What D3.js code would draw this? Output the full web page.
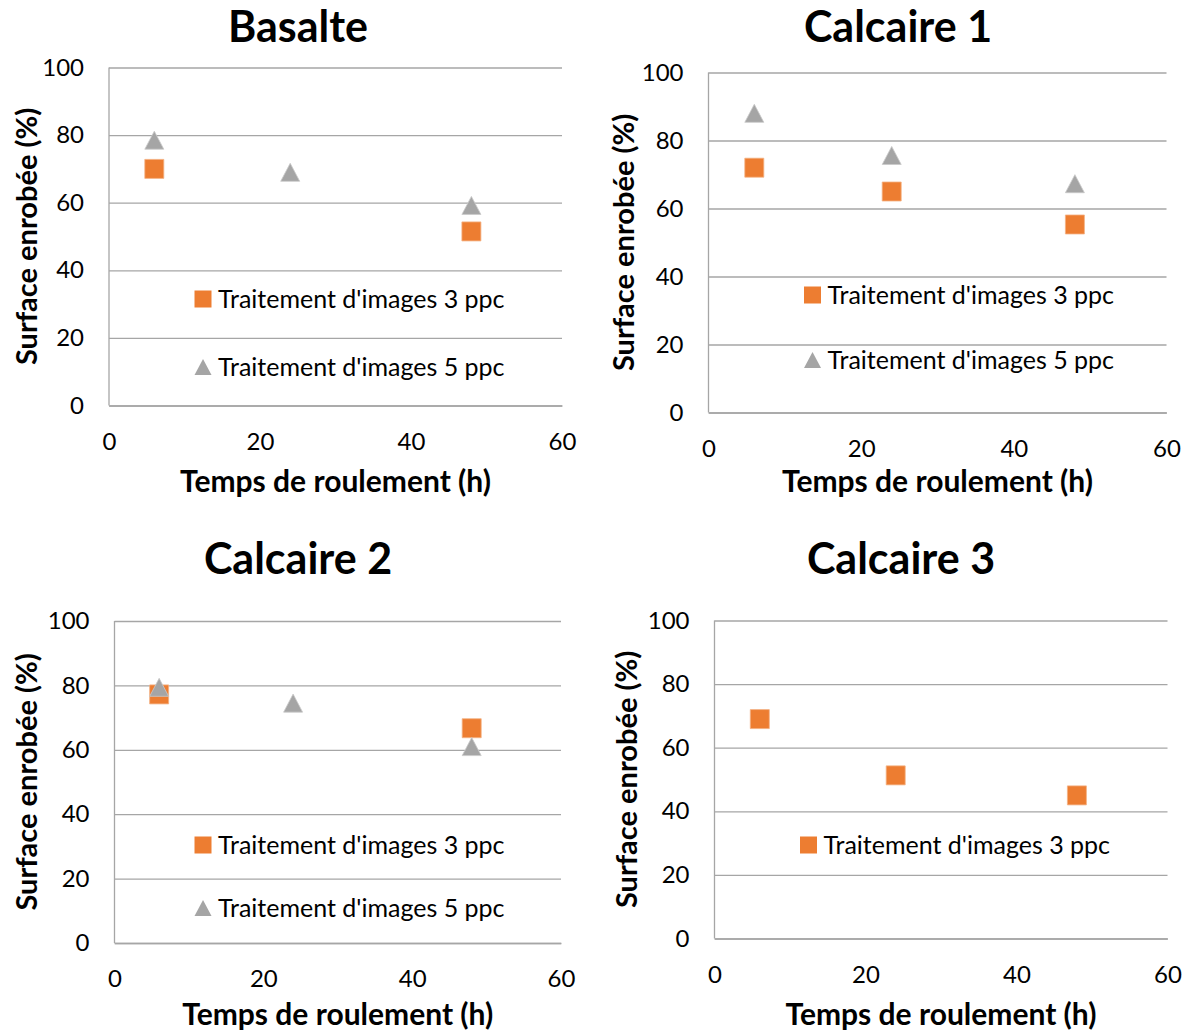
<!DOCTYPE html>
<html><head><meta charset="utf-8">
<script src="https://cdn.jsdelivr.net/npm/d3@7"></script>
<style>body{margin:0;background:#fff}svg{display:block}</style>
</head><body>
<svg id="c" width="1190" height="1034"></svg>
<script>
// ---- data ----
const panelTitles = ["Basalte", "Calcaire 1", "Calcaire 2", "Calcaire 3"];
const seriesNames = ["Traitement d'images 3 ppc", "Traitement d'images 5 ppc"];
const xTicks = [0, 20, 40, 60];
const yTicks = [0, 20, 40, 60, 80, 100];
const basalte3 = [[6, 70], [48, 51.5]];
const basalte5 = [[6, 78.5], [24, 69], [48, 59.2]];
const calcaire1_3 = [[6, 72], [24, 65], [48, 55.3]];
const calcaire1_5 = [[6, 88], [24, 75.6], [48, 67.3]];
const calcaire2_3 = [[6, 77.2], [48, 66.7]];
const calcaire2_5 = [[6, 79.4], [24, 74.5], [48, 61]];
const calcaire3_3 = [[6, 69], [24, 51.3], [48, 45]];
const xLabel = "Temps de roulement (h)";
const yLabel = "Surface enrobée (%)";

// ---- layout ----
const panels = [
  {title: panelTitles[0], s3: basalte3, s5: basalte5, L: 109, T: 67.5, R: 562, B: 405.5, tx: 298, ty: 42, xlY: 492, ylX: 37, legY: [299, 367], legX: 203},
  {title: panelTitles[1], s3: calcaire1_3, s5: calcaire1_5, L: 708.5, T: 72.5, R: 1166.5, B: 412.5, tx: 898, ty: 42, xlY: 492, ylX: 634, legY: [295, 360], legX: 812.5},
  {title: panelTitles[2], s3: calcaire2_3, s5: calcaire2_5, L: 114.5, T: 621, B: 943, R: 561, tx: 298, ty: 574, xlY: 1025, ylX: 37, legY: [845, 908], legX: 203},
  {title: panelTitles[3], s3: calcaire3_3, s5: null, L: 714.5, T: 620.5, R: 1167.5, B: 938.5, tx: 901, ty: 574, xlY: 1025, ylX: 637, legY: [845], legX: 808.5}
];
const ORANGE = "#ED7D31", GRAY = "#A5A5A5", GRID = "#A6A6A6";
const FONT = "Lato, 'Open Sans', sans-serif";
const svg = d3.select("#c");
const sq = d3.symbol().type(d3.symbolSquare).size(19 * 19);

function triPath(w) {
  const h = w * 0.95;
  return `M0,${-h/2}L${w/2},${h/2}L${-w/2},${h/2}Z`;
}

panels.forEach(p => {
  const g = svg.append("g");
  const x = d3.scaleLinear().domain([0, 60]).range([p.L, p.R]);
  const y = d3.scaleLinear().domain([0, 100]).range([p.B, p.T]);

  // gridlines + y ticks
  g.append("g").attr("transform", `translate(${p.L},0)`)
    .call(d3.axisLeft(y).tickValues(yTicks).tickSize(-(p.R - p.L)).tickFormat(d => d).tickPadding(25))
    .call(a => a.select(".domain").remove())
    .call(a => a.selectAll(".tick line").attr("stroke", GRID).attr("stroke-width", 1.3))
    .call(a => a.selectAll(".tick text").attr("font-family", FONT).attr("font-size", 24).attr("fill", "#000"));
  g.append("g").attr("transform", `translate(0,${p.B})`)
    .call(d3.axisBottom(x).tickValues(xTicks).tickSize(0).tickPadding(27))
    .call(a => a.select(".domain").attr("stroke", GRID).attr("stroke-width", 1.3))
    .call(a => a.selectAll(".tick text").attr("font-family", FONT).attr("font-size", 24).attr("fill", "#000"));
  // left axis line
  g.append("line").attr("x1", p.L).attr("x2", p.L).attr("y1", p.T).attr("y2", p.B).attr("stroke", GRID).attr("stroke-width", 1.3);

  // title
  g.append("text").attr("x", p.tx).attr("y", p.ty).attr("text-anchor", "middle")
    .attr("font-family", FONT).attr("font-weight", "bold").attr("font-size", 43).text(p.title);
  // axis labels
  g.append("text").attr("x", (p.L + p.R) / 2).attr("y", p.xlY).attr("text-anchor", "middle")
    .attr("font-family", FONT).attr("font-weight", "bold").attr("font-size", 30).text(xLabel);
  g.append("text").attr("transform", `translate(${p.ylX},${(p.T + p.B) / 2}) rotate(-90)`)
    .attr("text-anchor", "middle").attr("font-family", FONT).attr("font-weight", "bold").attr("font-size", 29).text(yLabel);

  // markers
  g.selectAll(".s3").data(p.s3).join("path")
    .attr("d", sq).attr("transform", d => `translate(${x(d[0])},${y(d[1])})`)
    .attr("fill", ORANGE).attr("stroke", "#F4B183").attr("stroke-width", 0.8);
  if (p.s5) {
    g.selectAll(".s5").data(p.s5).join("path")
      .attr("d", triPath(19)).attr("transform", d => `translate(${x(d[0])},${y(d[1])})`)
      .attr("fill", GRAY).attr("stroke", "#C9C9C9").attr("stroke-width", 0.8);
  }

  // legend
  const leg = [{name: seriesNames[0], c: ORANGE, t: "sq"}];
  if (p.s5) leg.push({name: seriesNames[1], c: GRAY, t: "tri"});
  leg.forEach((l, i) => {
    const ly = p.legY[i];
    g.append("path").attr("d", l.t === "sq" ? d3.symbol().type(d3.symbolSquare).size(17 * 17)() : triPath(17))
      .attr("transform", `translate(${p.legX},${ly})`).attr("fill", l.c);
    g.append("text").attr("x", p.legX + 15).attr("y", ly).attr("dy", "0.36em")
      .attr("font-family", FONT).attr("font-size", 25).attr("fill", "#000").text(l.name);
  });
});
</script>
</body></html>
